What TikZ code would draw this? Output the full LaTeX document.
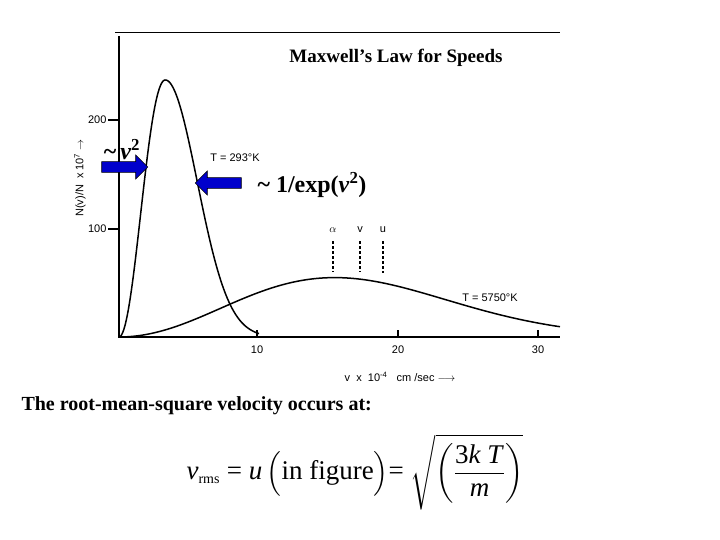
\documentclass[tikz,border=0pt]{standalone}
\usepackage{amsmath}
\usepackage{fontspec}
\setmainfont{Liberation Serif}
\newfontfamily\hand{Liberation Sans}
\usetikzlibrary{shapes.arrows}
\begin{document}
\begin{tikzpicture}[x=1pt,y=-1pt,
  ax/.style={line width=1.6pt},
  crv/.style={line width=1.5pt},
  hl/.style={font=\hand\fontsize{11}{12}\selectfont},
  barrow/.style={single arrow, draw=black, fill=blue!80!black, minimum height=46pt, minimum width=24pt, single arrow head extend=4pt, inner sep=3pt, line width=0.6pt},
  big/.style={font=\bfseries\fontsize{24}{26}\selectfont}]
\useasboundingbox (0,0) rectangle (720,540);
% axes
\draw[line width=1pt] (115,33) -- (560,33);
\draw[ax] (119,36) -- (119,337) -- (560,337);
\draw[ax] (108,120) -- (119,120);
\draw[ax] (108,229) -- (119,229);
\draw[ax] (257,337) -- (257,330);
\draw[ax] (398,337) -- (398,330);
\draw[ax] (538,337) -- (538,330);
\node[hl,anchor=east] (t200) at (110,120) {200};
\node[hl,anchor=east] (t100) at (110,229) {100};
\node[hl] (x10) at (257,350) {10};
\node[hl] (x20) at (398,350) {20};
\node[hl] (x30) at (538,350) {30};
\node[hl,rotate=90] (ylab) at (80,178) {N(v)/N\ \ x 10\textsuperscript{7} $\rightarrow$};
\node[hl] (xlab) at (400,377) {v\ \ x\ \ 10\textsuperscript{-4}\ \ \ cm /sec $\longrightarrow$};
% curves
\draw[crv,domain=0:3.3,samples=40,smooth] plot ({119+14*\x},{337-1.08*238*(\x/3.3)^2*exp(1-(\x/3.3)^2)});
\draw[crv,domain=3.3:10,samples=60,smooth] plot ({119+14*\x},{337-1.08*238*exp(-(\x-3.3)^2/10.4)});
\draw[crv,domain=0:31.5,samples=100,smooth] plot ({119+14*\x},{337-1.08*55*(\x/15.4)^2*exp(1-(\x/15.4)^2)});
\node[hl] (t1) at (235,158) {T = 293°K};
\node[hl] (t2) at (490,298) {T = 5750°K};
% dashed markers
\draw[line width=1.1pt,dash pattern=on 3pt off 2pt] (333,241) -- (333,272);
\draw[line width=1.1pt,dash pattern=on 3pt off 2pt] (360,241) -- (360,272);
\draw[line width=1.1pt,dash pattern=on 3pt off 2pt] (383,241) -- (383,273);
\node[hl] (la) at (333,230) {$\alpha$};
\node[hl] (lv) at (360,230) {v};
\node[hl] (lu) at (383,230) {u};
% title
\node[font=\bfseries\fontsize{19}{21}\selectfont] (title) at (396,58) {Maxwell's Law for Speeds};
% arrows
\node[barrow] (a1) at (122,167) {};
\node[barrow,shape border rotate=180] (a2) at (221,183) {};
\node[big] (l1) at (122,150) {\textasciitilde\,\textit{v}\textsuperscript{2}};
\node[big] (l2) at (312,185) {\textasciitilde{} 1/exp(\textit{v}\textsuperscript{2})};
% bottom text
\node[font=\bfseries\fontsize{20}{22}\selectfont,anchor=west] (rms) at (18,406) {The root-mean-square velocity occurs at:};
\node[font=\fontsize{27}{30}\selectfont] (form) at (355,472) {\textit{v}\textsubscript{\fontsize{14}{16}\selectfont rms} = \textit{u}\,$\Bigl($in figure$\Bigr)$= $\sqrt{\left(\dfrac{\text{3\textit{k T}}}{\text{\textit{m}}}\right)}$};
\end{tikzpicture}
\end{document}
